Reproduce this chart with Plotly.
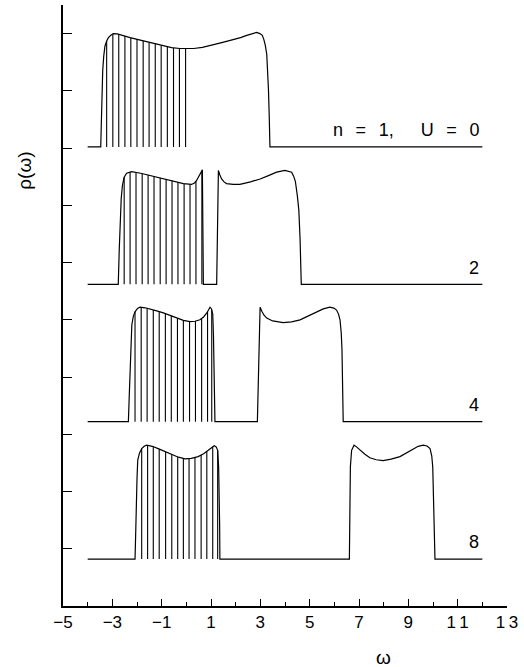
import numpy as np
import plotly.graph_objects as go

# ---------------- data ----------------
offsets = [8.02, 5.62, 3.22, 0.82]          # vertical offset of each curve
SP = "\u2002\u2009"
labels = ["n" + SP + "=" + SP + "1," + "\u2002\u2002\u2002" + "U" + SP + "=" + SP + "0", "2", "4", "8"]

w_u0 = [-4.0, -3.47, -3.45, -3.43, -3.41, -3.39, -3.35, -3.30, -3.23, -3.16, -3.06, -2.96,
        -2.8, -2.6, -2.28, -1.95, -1.61, -1.27, -0.93, -0.6, -0.26, 0.0, 0.3, 0.65, 1.0,
        1.23, 1.55, 1.9, 2.2, 2.45, 2.65, 2.85, 2.98, 3.08, 3.14, 3.2, 3.26, 3.30, 3.33,
        3.36, 3.39, 12.0]
r_u0 = [0, 0, 0.35, 0.75, 1.05, 1.33, 1.58, 1.76, 1.85, 1.91, 1.95, 1.98,
        1.975, 1.955, 1.91, 1.875, 1.84, 1.80, 1.76, 1.735, 1.72, 1.715, 1.72, 1.74, 1.77,
        1.80, 1.835, 1.87, 1.91, 1.95, 1.98, 2.0, 1.98, 1.95, 1.88, 1.78, 1.62, 1.35, 1.0,
        0.55, 0, 0]

w_u2 = [-4.0, -2.76, -2.72, -2.68, -2.64, -2.59, -2.52, -2.42, -2.22, -1.85, -1.47, -1.13,
        -0.80, -0.46, -0.12, 0.21, 0.33, 0.41, 0.49, 0.55, 0.61, 0.65, 0.67, 0.69,
        1.23, 1.27, 1.30, 1.36, 1.43, 1.53, 1.63, 1.9, 2.17, 2.6, 2.99, 3.33, 3.66, 4.0,
        4.15, 4.27, 4.35, 4.42, 4.50, 4.56, 4.61, 4.66, 12.0]
r_u2 = [0, 0, 0.6, 1.15, 1.5, 1.73, 1.87, 1.94, 1.97, 1.94, 1.90, 1.865,
        1.83, 1.795, 1.76, 1.745, 1.77, 1.81, 1.87, 1.93, 1.97, 2.0, 1.0, 0,
        0, 1.0, 1.99, 1.91, 1.84, 1.79, 1.76, 1.745, 1.745, 1.79, 1.84, 1.90, 1.96, 1.99,
        1.98, 1.96, 1.89, 1.8, 1.55, 1.3, 0.8, 0, 0]

w_u4 = [-4.0, -2.35, -2.31, -2.28, -2.25, -2.21, -2.15, -2.08, -1.98, -1.88, -1.67, -1.47,
        -1.2, -0.93, -0.66, -0.39, -0.12, 0.15, 0.35, 0.55, 0.70, 0.83, 0.91, 0.96, 1.02,
        1.07, 1.10, 1.12, 1.14, 1.16, 2.88, 2.92, 2.96, 2.99, 3.06, 3.15, 3.26, 3.5, 3.93,
        4.27, 4.61, 4.95, 5.28, 5.55, 5.82, 5.98, 6.09, 6.17, 6.23, 6.28, 6.31, 6.34, 6.36,
        12.0]
r_u4 = [0, 0, 0.5, 0.97, 1.4, 1.69, 1.84, 1.92, 1.98, 2.0, 1.99, 1.97,
        1.935, 1.90, 1.855, 1.81, 1.77, 1.75, 1.755, 1.78, 1.83, 1.90, 1.96, 2.0, 1.97,
        1.88, 1.5, 0.96, 0.45, 0, 0, 1.0, 1.8, 2.0, 1.93, 1.86, 1.81, 1.76, 1.73,
        1.745, 1.78, 1.85, 1.92, 1.97, 2.0, 1.985, 1.95, 1.88, 1.78, 1.55, 1.26, 0.6, 0,
        0]

w_u8 = [-4.0, -2.08, -2.05, -2.03, -2.0, -1.97, -1.9, -1.81, -1.71, -1.61, -1.38, -1.14,
        -0.86, -0.59, -0.32, -0.05, 0.2, 0.48, 0.7, 0.89, 1.03, 1.13, 1.21, 1.27, 1.31,
        1.33, 1.35, 1.36, 6.61, 6.63, 6.65, 6.70, 6.80, 6.9, 7.04, 7.24, 7.44, 7.7, 7.98,
        8.3, 8.66, 8.95, 9.2, 9.4, 9.60, 9.76, 9.88, 9.95, 9.99, 10.03, 10.06, 10.08, 12.0]
r_u8 = [0, 0, 0.5, 1.0, 1.4, 1.73, 1.85, 1.93, 1.97, 1.99, 1.97, 1.93,
        1.875, 1.82, 1.78, 1.75, 1.76, 1.79, 1.84, 1.90, 1.95, 1.98, 1.96, 1.90, 1.6,
        1.29, 0.6, 0, 0, 0.8, 1.61, 1.90, 1.99, 1.96, 1.90, 1.83, 1.77, 1.735, 1.72,
        1.745, 1.79, 1.86, 1.93, 1.97, 1.99, 1.975, 1.93, 1.8, 1.61, 1.0, 0.4, 0, 0]

# positions of the vertical hatching (occupied states)
hatch_u0 = [-3.23, -2.98, -2.74, -2.49, -2.25, -2.0, -1.75, -1.51, -1.26, -1.02, -0.77, -0.52, -0.28, -0.03]
hatch_u2 = [-2.52, -2.28, -2.04, -1.79, -1.55, -1.31, -1.06, -0.82, -0.58, -0.34, -0.09, 0.15, 0.39, 0.63]
hatch_u4 = [-2.08, -1.83, -1.59, -1.34, -1.10, -0.85, -0.61, -0.36, -0.12, 0.13, 0.37, 0.62, 0.86, 1.03]
hatch_u8 = [-1.81, -1.57, -1.34, -1.10, -0.84, -0.59, -0.35, -0.12, 0.11, 0.35, 0.60, 0.83, 1.07, 1.27]

x_tickvals = [-5, -3, -1, 1, 3, 5, 7, 9, 11, 13]
x_ticktext = ["\u22125", "\u22123", "\u22121", "1", "3", "5", "7", "9", "1\u20091", "1\u20093"]
x_minor = [-4, -2, 0, 2, 4, 6, 8, 10, 12]
y_tickvals = [1, 2, 3, 4, 5, 6, 7, 8, 9, 10]

# ---------------- figure ----------------
FONT = "Liberation Sans, Arial, sans-serif"
fig = go.Figure()

curves = [(w_u0, r_u0, hatch_u0), (w_u2, r_u2, hatch_u2),
          (w_u4, r_u4, hatch_u4), (w_u8, r_u8, hatch_u8)]

for (ws, rs, hs), off, lab in zip(curves, offsets, labels):
    ys = [off + r for r in rs]
    fig.add_trace(go.Scatter(x=ws, y=ys, mode="lines",
                             line=dict(color="black", width=1.2), hoverinfo="skip"))
    hh = np.interp(hs, ws, rs)
    hx, hy = [], []
    for xv, h in zip(hs, hh):
        hx += [xv, xv, None]
        hy += [off, off + h, None]
    fig.add_trace(go.Scatter(x=hx, y=hy, mode="lines",
                             line=dict(color="black", width=1.1), hoverinfo="skip"))
    fig.add_annotation(x=11.95, y=off + 0.29, xref="x", yref="y", text=lab,
                       showarrow=False, xanchor="right", yanchor="middle",
                       font=dict(family=FONT, size=18, color="black"))

fig.add_annotation(x=-0.086, y=0.724, xref="paper", yref="paper", text="\u03c1(\u03c9)",
                   showarrow=False, textangle=-90, xanchor="center", yanchor="middle",
                   font=dict(family=FONT, size=19, color="black"))
fig.add_annotation(x=0.721, y=-0.085, xref="paper", yref="paper", text="\u03c9",
                   showarrow=False, xanchor="center", yanchor="middle",
                   font=dict(family=FONT, size=19, color="black"))

fig.update_xaxes(range=[-5, 13], showline=True, linecolor="black", linewidth=1.6,
                 ticks="inside", ticklen=7, tickwidth=1.2, tickcolor="black",
                 tickvals=x_tickvals, ticktext=x_ticktext,
                 tickfont=dict(family=FONT, size=17, color="black"),
                 minor=dict(tickvals=x_minor, ticks="inside", ticklen=4,
                            tickwidth=1.2, tickcolor="black"),
                 showgrid=False, zeroline=False, mirror=False)
fig.update_yaxes(range=[0, 10.5], showline=True, linecolor="black", linewidth=2,
                 ticks="inside", ticklen=9, tickwidth=1.2, tickcolor="black",
                 tickvals=y_tickvals, showticklabels=False,
                 showgrid=False, zeroline=False, mirror=False)

fig.update_layout(width=524, height=667, showlegend=False,
                  margin=dict(l=63, r=17, t=5, b=61),
                  paper_bgcolor="white", plot_bgcolor="white")

fig.write_html("out.html", config={"displayModeBar": False},
               post_script="document.body.style.margin='0px';document.body.style.overflow='hidden';")
